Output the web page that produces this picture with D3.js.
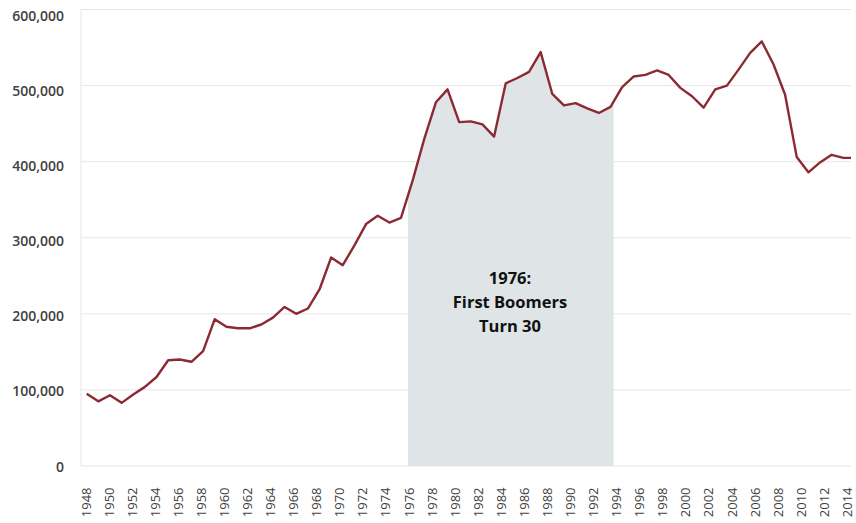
<!DOCTYPE html>
<html>
<head>
<meta charset="utf-8">
<script src="https://cdn.jsdelivr.net/npm/d3@7"></script>
<style>
  body { margin: 0; background: #fff; }
  text { font-family: "Open Sans", sans-serif; }
</style>
</head>
<body>
<svg width="856" height="523"></svg>
<script>
var years = [1948, 1949, 1950, 1951, 1952, 1953, 1954, 1955, 1956, 1957,
             1958, 1959, 1960, 1961, 1962, 1963, 1964, 1965, 1966, 1967,
             1968, 1969, 1970, 1971, 1972, 1973, 1974, 1975, 1976, 1977,
             1978, 1979, 1980, 1981, 1982, 1983, 1984, 1985, 1986, 1987,
             1988, 1989, 1990, 1991, 1992, 1993, 1994, 1995, 1996, 1997,
             1998, 1999, 2000, 2001, 2002, 2003, 2004, 2005, 2006, 2007,
             2008, 2009, 2010, 2011, 2012, 2013, 2014];

var values = [95000, 85000, 93000, 83000, 94000, 104000, 117000, 139000, 140000, 137000,
              151000, 193000, 183000, 181000, 181000, 186000, 195000, 209000, 200000, 207000,
              232000, 274000, 264000, 290000, 318000, 329000, 320000, 326000, 375000, 430000,
              478000, 495000, 452000, 453000, 449000, 433000, 503000, 510000, 518000, 544000,
              489000, 474000, 477000, 470000, 464000, 472000, 498000, 512000, 514000, 520000,
              514000, 497000, 486000, 471000, 495000, 500000, 521000, 543000, 558000, 528000,
              488000, 406000, 386000, 399000, 409000, 405000, 405000];

var tickYears = [1948, 1950, 1952, 1954, 1956, 1958, 1960, 1962, 1964, 1966, 1968,
                 1970, 1972, 1974, 1976, 1978, 1980, 1982, 1984, 1986, 1988, 1990,
                 1992, 1994, 1996, 1998, 2000, 2002, 2004, 2006, 2008, 2010, 2012, 2014];

var yTicks = [0, 100000, 200000, 300000, 400000, 500000, 600000];

var shadeYears = [1976, 1994];
var noteLines = ["1976:", "First Boomers", "Turn 30"];

var svg = d3.select("svg");

var left = 81, right = 851;

// line positions and label positions are slightly off in the original
var x = d3.scaleLinear().domain([1948, 2013]).range([86.7, 843.3]);
var xLabel = d3.scaleLinear().domain([1948, 2014]).range([86, 847.3]);
var y = d3.scaleLinear().domain([0, 600000]).range([466, 9.5]);
var yLabel = d3.scaleLinear().domain([0, 600000]).range([466.7, 15.8]);

var data = years.map(function(d, i) { return { year: d, value: values[i] }; });

var defs = svg.append("defs");
defs.append("clipPath").attr("id", "plot")
    .append("rect")
    .attr("x", left).attr("y", 0)
    .attr("width", right - left).attr("height", 470);
defs.append("clipPath").attr("id", "shade")
    .append("rect")
    .attr("x", xLabel(shadeYears[0]) - 1).attr("y", 0)
    .attr("width", xLabel(shadeYears[1]) - xLabel(shadeYears[0]) - 2)
    .attr("height", y(0));

// gridlines
svg.append("g").selectAll("line")
    .data(yTicks)
    .enter().append("line")
    .attr("x1", left).attr("x2", right)
    .attr("y1", d => y(d)).attr("y2", d => y(d))
    .attr("stroke", "#e6e6e6")
    .attr("stroke-width", 1);

svg.append("line")
    .attr("x1", left).attr("x2", left)
    .attr("y1", y(600000)).attr("y2", y(0))
    .attr("stroke", "#e6e6e6")
    .attr("stroke-width", 1);

// shaded band under the line
var area = d3.area()
    .x(d => x(d.year))
    .y0(y(0))
    .y1(d => y(d.value));

svg.append("path")
    .datum(data)
    .attr("clip-path", "url(#shade)")
    .attr("fill", "#dfe4e7")
    .attr("d", area);

// annotation
svg.append("text")
    .attr("x", 510)
    .attr("y", 284)
    .attr("text-anchor", "middle")
    .attr("font-size", 16.5)
    .attr("font-weight", 700)
    .attr("fill", "#111")
    .selectAll("tspan")
    .data(noteLines)
    .enter().append("tspan")
    .attr("x", 510)
    .attr("dy", (d, i) => i ? 24 : 0)
    .text(d => d);

// line
var line = d3.line()
    .x(d => x(d.year))
    .y(d => y(d.value));

svg.append("path")
    .datum(data)
    .attr("clip-path", "url(#plot)")
    .attr("fill", "none")
    .attr("stroke", "#8c2a33")
    .attr("stroke-width", 2.4)
    .attr("stroke-linejoin", "round")
    .attr("d", line);

// y labels
var fmt = d3.format(",");
svg.append("g").selectAll("text")
    .data(yTicks)
    .enter().append("text")
    .attr("x", 64)
    .attr("y", d => yLabel(d))
    .attr("dy", "0.35em")
    .attr("text-anchor", "end")
    .attr("font-size", 14)
    .attr("font-weight", 600)
    .attr("fill", "#404040")
    .text(d => fmt(d));

// x labels
svg.append("g").selectAll("text")
    .data(tickYears)
    .enter().append("text")
    .attr("transform", d => "translate(" + xLabel(d) + ",487.5) rotate(-90)")
    .attr("dy", "0.35em")
    .attr("text-anchor", "end")
    .attr("font-size", 13)
    .attr("fill", "#404040")
    .text(d => d);
</script>
</body>
</html>
